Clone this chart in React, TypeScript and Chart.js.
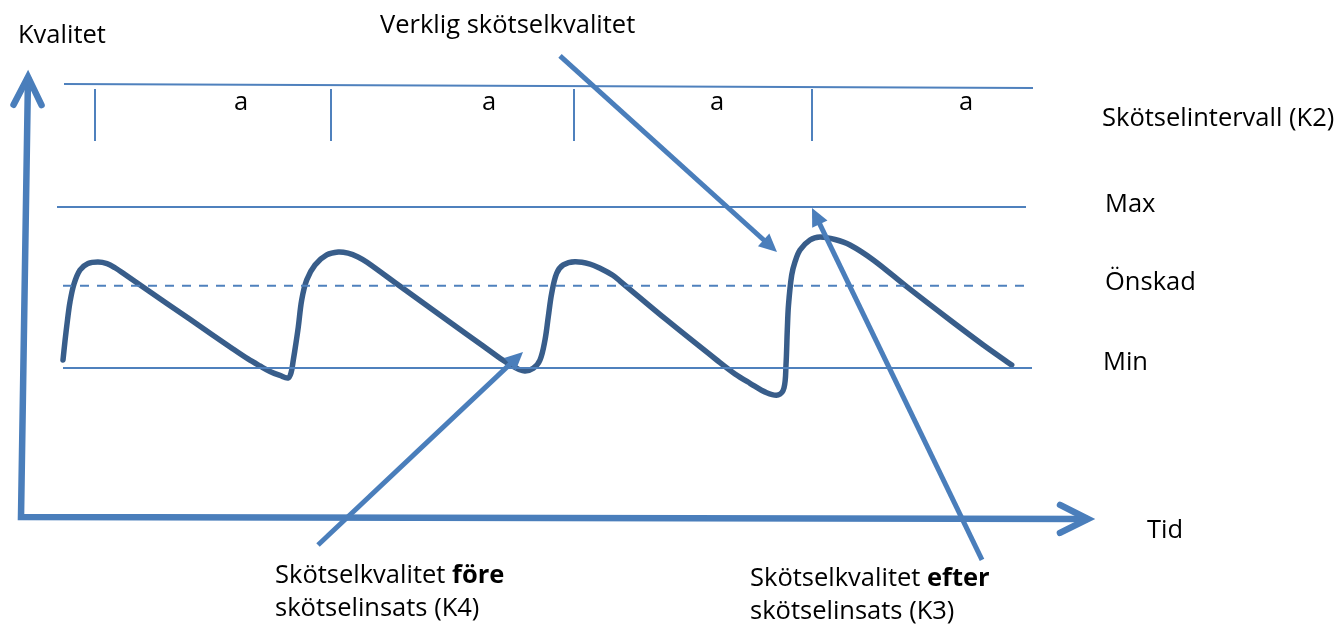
import React, { useEffect, useRef } from "react";
import { Chart, registerables } from "chart.js";
Chart.register(...registerables);

const W = 1341;
const H = 625;
const FONT = "'Open Sans', Lato, sans-serif";
const FONT_SIZE = 25.5;

// Scales: time (t) and quality (q)
const T_MIN = 0;
const T_MAX = 134.1;
const Q_MIN = -21.93;
const Q_MAX = 55.71;

// Quality levels (Max, Önskad, Min)
const levelNames = ["Max", "Önskad", "Min"];
const levelValues = [30, 20.2, 10];
const levelStartT = [5.7, 6.3, 6.3];
const levelEndT = [102.6, 103.2, 103.2];
const levelDashed = [false, true, false];
const levelLabelT = [110.5, 110.5, 110.3];
const levelLabelQ = [29.38, 19.69, 9.75];

// Maintenance interval (K2)
const intervalLineT = [6.4, 103.3];
const intervalLineQ = [45.28, 44.78];
const intervalTicksT = [9.5, 33.1, 57.4, 81.2];
const intervalTickQ = [44.66, 38.2];
const intervalLabelT = [24.1, 48.9, 71.7, 96.6];
const intervalLabelQ = 42.0;
const intervalLabel = "a";

const curveT = [
  6.3, 6.5, 6.75, 7.0, 7.4, 8.0, 8.8, 9.8, 10.7, 11.5, 12.5, 14.3, 19.0, 23.3, 24.8, 26.0, 27.0, 28.0, 28.8,
  29.1, 29.33, 29.6, 29.83, 30.17, 30.67, 31.5, 32.67, 33.83,
  34.8, 35.8, 36.7, 39.7, 43.3, 46.7, 50.0, 50.5, 51.3, 51.9, 52.5,
  53.33, 54.0, 54.5, 54.83, 55.17, 55.67, 56.33, 57.5,
  59.0, 60.0, 61.28, 62.0, 66.67, 71.67, 73.5, 75.0, 76.67, 77.83,
  78.4, 78.6, 78.73, 78.85, 79.17, 79.5, 80.0, 81.0, 82.0,
  83.5, 85.0, 87.33, 90.67, 95.0, 98.33, 101.17,
];
const curveQ = [
  10.99, 13.35, 15.96, 18.2, 20.43, 22.17, 22.98, 23.17, 22.97, 22.45, 21.6, 20.06, 16.04, 12.36, 11.12, 10.25, 9.57, 9.07, 8.76,
  9.38, 10.99, 13.11, 15.09, 18.45, 20.93, 22.8, 24.04, 24.41,
  24.26, 23.79, 23.12, 20.42, 17.2, 14.16, 11.22, 10.81, 10.19, 9.81, 9.63,
  9.96, 10.99, 13.48, 16.37, 19.28, 21.76, 22.8, 23.2,
  22.91, 22.39, 21.52, 20.8, 15.96, 10.99, 9.25, 8.1, 6.93, 6.65,
  7.52, 10.37, 14.72, 17.83, 21.55, 23.17, 24.66, 25.9, 26.27,
  25.96, 25.28, 23.42, 20.1, 15.96, 12.86, 10.37,
];

// Axes (corner, tips)
const axisCornerT = 2.1;
const axisCornerQ = -8.51;
const yAxisTipT = 2.8;
const yAxisTipQ = 46.15;
const xAxisTipT = 108.8;
const xAxisTipQ = -8.76;
const axisLabels = ["Kvalitet", "Tid"];
const axisLabelT = [1.8, 114.7];
const axisLabelQ = [50.37, -11.12];

// Annotation arrows
const arrowFromT = [56.0, 31.8, 98.2];
const arrowFromQ = [48.76, -11.99, -13.85];
const arrowToT = [77.7, 52.3, 81.2];
const arrowToQ = [24.41, 11.99, 29.88];

// Annotation texts
type Part = { text: string; bold?: boolean };
const annotationLines: Part[][] = [
  [{ text: "Verklig skötselkvalitet" }],
  [{ text: "Skötselintervall (K2)" }],
  [{ text: "Skötselkvalitet " }, { text: "före", bold: true }],
  [{ text: "skötselinsats (K4)" }],
  [{ text: "Skötselkvalitet " }, { text: "efter", bold: true }],
  [{ text: "skötselinsats (K3)" }],
];
const annotationT = [38.0, 110.2, 27.5, 27.5, 75.0, 75.0];
const annotationQ = [51.61, 40.06, -16.71, -20.81, -17.08, -21.18];

const THIN = "#4F81BD";
const ARROW = "#4A7EBB";
const CURVE = "#385D8A";

function pts(ts: number[], qs: number[]) {
  return ts.map((t, i) => ({ x: t, y: qs[i] }));
}

export default function App() {
  const ref = useRef<HTMLCanvasElement | null>(null);

  useEffect(() => {
    if (!ref.current) return;
    document.body.style.margin = "0";

    const tickData: { x: number; y: number }[] = [];
    intervalTicksT.forEach((t) => {
      tickData.push({ x: t, y: intervalTickQ[0] });
      tickData.push({ x: t, y: intervalTickQ[1] });
      tickData.push({ x: t, y: NaN });
    });

    const levelSets = levelValues.map((v, i) => ({
      label: levelNames[i],
      data: [
        { x: levelStartT[i], y: v },
        { x: levelEndT[i], y: v },
      ],
      borderColor: THIN,
      borderWidth: 2,
      borderDash: levelDashed[i] ? [9, 8] : [],
      pointRadius: 0,
      tension: 0,
    }));

    const overlay = {
      id: "overlay",
      afterDatasetsDraw(chart: any) {
        const ctx: CanvasRenderingContext2D = chart.ctx;
        const xs = chart.scales.x;
        const ys = chart.scales.y;
        const px = (t: number) => xs.getPixelForValue(t);
        const py = (q: number) => ys.getPixelForValue(q);
        ctx.save();

        // Axes
        const cx = px(axisCornerT), cy = py(axisCornerQ);
        const yx = px(yAxisTipT), yy = py(yAxisTipQ);
        const xx = px(xAxisTipT), xy = py(xAxisTipQ);
        ctx.strokeStyle = ARROW;
        ctx.lineWidth = 6.5;
        ctx.lineJoin = "miter";
        ctx.lineCap = "butt";
        ctx.beginPath();
        ctx.moveTo(yx, yy);
        ctx.lineTo(cx, cy);
        ctx.lineTo(xx, xy);
        ctx.stroke();
        const chevron = (fx: number, fy: number, tx: number, ty: number) => {
          const a = Math.atan2(ty - fy, tx - fx);
          const len = 28, half = 14;
          const bx = tx - len * Math.cos(a), by = ty - len * Math.sin(a);
          const nx = -Math.sin(a), ny = Math.cos(a);
          ctx.beginPath();
          ctx.lineCap = "round";
          ctx.lineJoin = "miter";
          ctx.moveTo(bx + half * nx, by + half * ny);
          ctx.lineTo(tx, ty);
          ctx.lineTo(bx - half * nx, by - half * ny);
          ctx.stroke();
        };
        chevron(cx, cy, yx, yy);
        chevron(cx, cy, xx, xy);

        // Annotation arrows
        arrowFromT.forEach((ft, i) => {
          const x1 = px(ft), y1 = py(arrowFromQ[i]);
          const x2 = px(arrowToT[i]), y2 = py(arrowToQ[i]);
          const a = Math.atan2(y2 - y1, x2 - x1);
          const len = 18, half = 8.5;
          const bx = x2 - len * Math.cos(a), by = y2 - len * Math.sin(a);
          const nx = -Math.sin(a), ny = Math.cos(a);
          ctx.strokeStyle = ARROW;
          ctx.fillStyle = ARROW;
          ctx.lineWidth = 5;
          ctx.lineCap = "butt";
          ctx.beginPath();
          ctx.moveTo(x1, y1);
          ctx.lineTo(bx + 2 * Math.cos(a), by + 2 * Math.sin(a));
          ctx.stroke();
          ctx.beginPath();
          ctx.moveTo(x2, y2);
          ctx.lineTo(bx + half * nx, by + half * ny);
          ctx.lineTo(bx - half * nx, by - half * ny);
          ctx.closePath();
          ctx.fill();
        });

        // Texts
        ctx.fillStyle = "#000000";
        ctx.textBaseline = "alphabetic";
        const drawRich = (parts: Part[], x: number, y: number) => {
          let cur = x;
          ctx.textAlign = "left";
          parts.forEach((p) => {
            ctx.font = `${p.bold ? "bold " : ""}${FONT_SIZE}px ${FONT}`;
            ctx.fillText(p.text, cur, y);
            cur += ctx.measureText(p.text).width;
          });
        };
        annotationLines.forEach((parts, i) => drawRich(parts, px(annotationT[i]), py(annotationQ[i])));
        levelNames.forEach((n, i) => drawRich([{ text: n }], px(levelLabelT[i]), py(levelLabelQ[i])));
        axisLabels.forEach((n, i) => drawRich([{ text: n }], px(axisLabelT[i]), py(axisLabelQ[i])));
        ctx.font = `${FONT_SIZE}px ${FONT}`;
        ctx.textAlign = "center";
        intervalLabelT.forEach((t) => ctx.fillText(intervalLabel, px(t), py(intervalLabelQ)));

        ctx.restore();
      },
    };

    const chart = new Chart(ref.current, {
      type: "line",
      data: {
        datasets: [
          ...levelSets,
          {
            label: "Skötselintervall",
            data: pts(intervalLineT, intervalLineQ),
            borderColor: THIN,
            borderWidth: 2,
            pointRadius: 0,
            tension: 0,
          },
          {
            label: "Intervall",
            data: tickData,
            borderColor: THIN,
            borderWidth: 2,
            pointRadius: 0,
            spanGaps: false,
            tension: 0,
          },
          {
            label: "Verklig skötselkvalitet",
            data: pts(curveT, curveQ),
            borderColor: CURVE,
            borderWidth: 5.5,
            borderCapStyle: "round",
            borderJoinStyle: "round",
            pointRadius: 0,
            tension: 0.35,
          },
        ] as any,
      },
      options: {
        responsive: false,
        maintainAspectRatio: false,
        animation: false,
        devicePixelRatio: 1,
        layout: { padding: 0 },
        plugins: { legend: { display: false }, tooltip: { enabled: false } },
        elements: { line: { fill: false } },
        scales: {
          x: { type: "linear", display: false, min: T_MIN, max: T_MAX },
          y: { type: "linear", display: false, min: Q_MIN, max: Q_MAX },
        },
      } as any,
      plugins: [overlay],
    });
    return () => chart.destroy();
  }, []);

  return (
    <div style={{ position: "fixed", left: 0, top: 0, width: W, height: H, background: "#ffffff" }}>
      <canvas ref={ref} width={W} height={H} style={{ width: W, height: H, display: "block" }} />
    </div>
  );
}
